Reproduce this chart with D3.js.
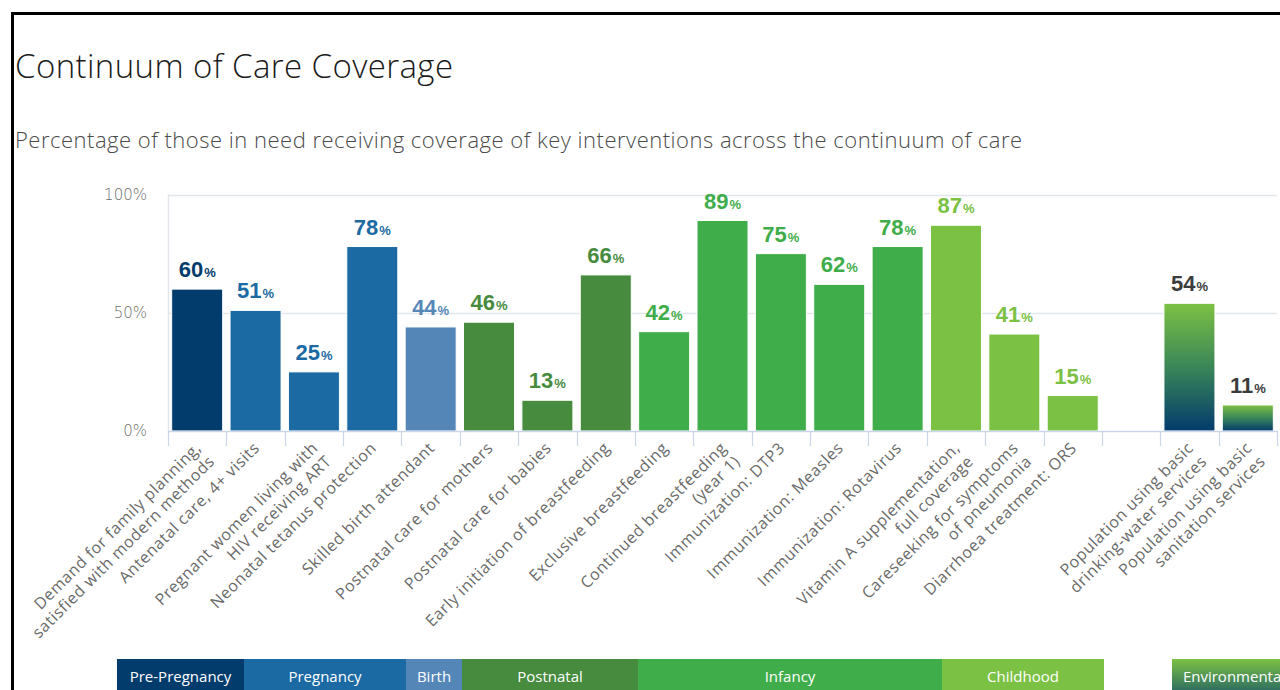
<!DOCTYPE html>
<html>
<head>
<meta charset="utf-8">
<script src="https://cdn.jsdelivr.net/npm/d3@7"></script>
<style>
  html, body { margin: 0; padding: 0; background: #fff; overflow: hidden; }
  svg { display: block; }
</style>
</head>
<body>
<svg id="chart" width="1280" height="690"></svg>
<script>
// ---- data ----
const categories = [
  "Demand for family planning,\nsatisfied with modern methods",
  "Antenatal care, 4+ visits",
  "Pregnant women living with\nHIV receiving ART",
  "Neonatal tetanus protection",
  "Skilled birth attendant",
  "Postnatal care for mothers",
  "Postnatal care for babies",
  "Early initiation of breastfeeding",
  "Exclusive breastfeeding",
  "Continued breastfeeding\n(year 1)",
  "Immunization: DTP3",
  "Immunization: Measles",
  "Immunization: Rotavirus",
  "Vitamin A supplementation,\nfull coverage",
  "Careseeking for symptoms\nof pneumonia",
  "Diarrhoea treatment: ORS",
  "",
  "Population using basic\ndrinking-water services",
  "Population using basic\nsanitation services"
];
const values = [60, 51, 25, 78, 44, 46, 13, 66, 42, 89, 75, 62, 78, 87, 41, 15, null, 54, 11];
const categoryStage = [
  "Pre-Pregnancy", "Pregnancy", "Pregnancy", "Pregnancy", "Birth",
  "Postnatal", "Postnatal", "Postnatal",
  "Infancy", "Infancy", "Infancy", "Infancy", "Infancy",
  "Childhood", "Childhood", "Childhood",
  null,
  "Environmental", "Environmental"
];
const stages = ["Pre-Pregnancy", "Pregnancy", "Birth", "Postnatal", "Infancy", "Childhood", "Environmental"];
const yTicks = [0, 50, 100];
const yTickLabels = ["0%", "50%", "100%"];

// ---- styles ----
const stageColor = {
  "Pre-Pregnancy": "#023c6d",
  "Pregnancy": "#1b6aa3",
  "Birth": "#5486b8",
  "Postnatal": "#468b3e",
  "Infancy": "#3fad49",
  "Childhood": "#7bc143",
  "Environmental": "url(#envGrad)"
};
const stageLabelColor = {
  "Pre-Pregnancy": "#023c6d",
  "Pregnancy": "#1b6aa3",
  "Birth": "#5486b8",
  "Postnatal": "#468b3e",
  "Infancy": "#3fad49",
  "Childhood": "#7bc143",
  "Environmental": "#3c3c3c"
};

// legend strip segment edges (layout)
const stripEdges = [117, 244, 406, 462, 638, 942, 1104];
const envStrip = [1172, 1296];

const svg = d3.select("#chart");
const defs = svg.append("defs");
const grad = defs.append("linearGradient").attr("id", "envGrad")
  .attr("x1", 0).attr("y1", 0).attr("x2", 0).attr("y2", 1);
grad.append("stop").attr("offset", "0%").attr("stop-color", "#7cc143");
grad.append("stop").attr("offset", "50%").attr("stop-color", "#3a8658");
grad.append("stop").attr("offset", "100%").attr("stop-color", "#033b6d");

const stripGrad = defs.append("linearGradient").attr("id", "envStripGrad")
  .attr("x1", 0).attr("y1", 0).attr("x2", 0).attr("y2", 1);
stripGrad.append("stop").attr("offset", "0%").attr("stop-color", "#7cc143");
stripGrad.append("stop").attr("offset", "100%").attr("stop-color", "#0d4a6e");

// frame
svg.append("rect")
  .attr("x", 12.5).attr("y", 13.5)
  .attr("width", 1400).attr("height", 800)
  .attr("fill", "none").attr("stroke", "#000").attr("stroke-width", 3);

// titles
svg.append("text")
  .attr("x", 15).attr("y", 78)
  .attr("font-family", "'Open Sans', sans-serif")
  .attr("font-weight", 300)
  .attr("font-size", 33)
  .attr("letter-spacing", 0.4)
  .attr("fill", "#1a1a1a")
  .text("Continuum of Care Coverage");

svg.append("text")
  .attr("x", 15).attr("y", 148)
  .attr("font-family", "'Open Sans', sans-serif")
  .attr("font-weight", 300)
  .attr("font-size", 22)
  .attr("letter-spacing", 0.5)
  .attr("fill", "#4a4a4a")
  .text("Percentage of those in need receiving coverage of key interventions across the continuum of care");

// ---- scales ----
const n = categories.length;
const x = d3.scaleBand()
  .domain(d3.range(n))
  .range([168, 1277])
  .paddingInner(0.126)
  .paddingOuter(0.063);
const y = d3.scaleLinear().domain([0, 100]).range([431, 194.5]);

const gapHalf = x.step() * x.paddingInner() / 2;

// grid
svg.append("g").selectAll("line")
  .data(yTicks.filter(t => t > 0))
  .join("line")
  .attr("x1", 168).attr("x2", 1277)
  .attr("y1", d => Math.round(y(d)) + 0.5).attr("y2", d => Math.round(y(d)) + 0.5)
  .attr("stroke", "#e3e6eb").attr("stroke-width", 1.5);

svg.append("line")
  .attr("x1", 168.5).attr("x2", 168.5)
  .attr("y1", y(100)).attr("y2", y(0))
  .attr("stroke", "#e3e6eb").attr("stroke-width", 1.5);

// y axis labels
const yAxis = d3.axisLeft(y)
  .tickValues(yTicks)
  .tickFormat((d, i) => yTickLabels[i])
  .tickSize(0).tickPadding(0);
const gy = svg.append("g").attr("transform", "translate(147,0)").call(yAxis);
gy.select(".domain").remove();
gy.selectAll("text")
  .attr("font-family", "'DejaVu Sans', sans-serif")
  .attr("font-weight", 200)
  .attr("font-size", 15)
  .attr("fill", "#6e6e6e");

// bars
const barData = values.map((v, i) => ({ i, v, stage: categoryStage[i] })).filter(d => d.v != null);
svg.append("g").selectAll("rect")
  .data(barData)
  .join("rect")
  .attr("x", d => x(d.i))
  .attr("width", x.bandwidth())
  .attr("y", d => y(d.v))
  .attr("height", d => y(0) - y(d.v))
  .attr("fill", d => stageColor[d.stage])
  .attr("stroke", "#fff").attr("stroke-width", 1);

// x axis line and category separators
svg.append("line")
  .attr("x1", 168).attr("x2", 1277)
  .attr("y1", y(0) + 0.5).attr("y2", y(0) + 0.5)
  .attr("stroke", "#ccd6eb").attr("stroke-width", 1.5);

const boundaries = d3.range(n).map(i => x(i) - gapHalf).concat([x(n - 1) + x.bandwidth() + gapHalf]);
svg.append("g").selectAll("line")
  .data(boundaries)
  .join("line")
  .attr("x1", d => Math.round(d) + 0.5).attr("x2", d => Math.round(d) + 0.5)
  .attr("y1", y(0)).attr("y2", y(0) + 15)
  .attr("stroke", "#ccd6eb").attr("stroke-width", 1.2);

// value labels
const vl = svg.append("g").selectAll("text")
  .data(barData)
  .join("text")
  .attr("x", d => x(d.i) + x.bandwidth() / 2)
  .attr("y", d => y(d.v) - 12)
  .attr("text-anchor", "middle")
  .attr("font-family", "'Liberation Sans', Arial, sans-serif")
  .attr("font-weight", "bold")
  .attr("fill", d => stageLabelColor[d.stage]);
vl.append("tspan").attr("font-size", 22).text(d => d.v);
vl.append("tspan").attr("font-size", 13).attr("dx", 1).text("%");

// category labels (rotated)
const cl = svg.append("g").selectAll("g")
  .data(categories.map((c, i) => ({ i, lines: c ? c.split("\n") : [] })).filter(d => d.lines.length))
  .join("g")
  .attr("transform", d => `translate(${x(d.i) + x.bandwidth() / 2 + 5},449) rotate(-45)`);
cl.append("text")
  .attr("text-anchor", "end")
  .attr("font-family", "'Open Sans', sans-serif")
  .attr("font-size", 16)
  .attr("letter-spacing", 0.6)
  .attr("fill", "#6a6a6a")
  .selectAll("tspan")
  .data(d => d.lines)
  .join("tspan")
  .attr("x", 0)
  .attr("y", (d, k) => k * 19)
  .text(d => d);

// stage strip
const stripY = 659, stripH = 46;
const segs = stages.slice(0, 6).map((s, k) => ({ s, x0: stripEdges[k], x1: stripEdges[k + 1] }));
segs.push({ s: "Environmental", x0: envStrip[0], x1: envStrip[1] });
const sg = svg.append("g").selectAll("g").data(segs).join("g");
sg.append("rect")
  .attr("x", d => d.x0).attr("y", stripY)
  .attr("width", d => d.x1 - d.x0).attr("height", stripH)
  .attr("fill", d => d.s === "Environmental" ? "url(#envStripGrad)" : stageColor[d.s]);
sg.append("text")
  .attr("x", d => (d.x0 + d.x1) / 2)
  .attr("y", 682)
  .attr("text-anchor", "middle")
  .attr("font-family", "'Open Sans', sans-serif")
  .attr("font-size", 15)
  .attr("fill", "#fff")
  .text(d => d.s);
</script>
</body>
</html>
